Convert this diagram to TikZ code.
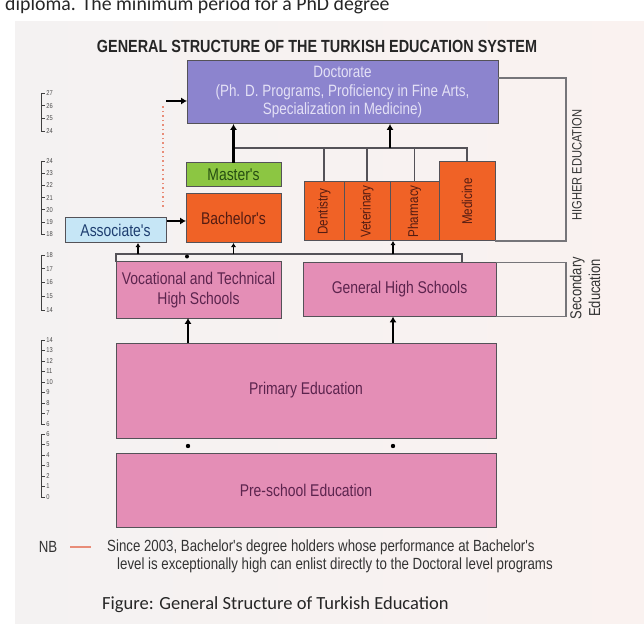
\documentclass[tikz,border=0pt]{standalone}
\usepackage{fontspec}
\usetikzlibrary{arrows.meta,positioning}
\newfontfamily\condfont[FakeStretch=0.82]{Liberation Sans}
\newfontfamily\capfont{Carlito}
\newlength{\px}\setlength{\px}{0.03cm}

\definecolor{paper}{RGB}{244,242,242}
\definecolor{paperR}{RGB}{250,242,240}
\definecolor{docblue}{RGB}{140,132,206}
\definecolor{doctext}{RGB}{228,225,246}
\definecolor{masgreen}{RGB}{140,198,66}
\definecolor{mastext}{RGB}{38,78,18}
\definecolor{bacorange}{RGB}{240,98,38}
\definecolor{bactext}{RGB}{84,28,18}
\definecolor{ascblue}{RGB}{198,230,246}
\definecolor{asctext}{RGB}{30,62,112}
\definecolor{schpink}{RGB}{228,142,182}
\definecolor{schtext}{RGB}{92,36,78}
\definecolor{edgegray}{RGB}{84,82,88}
\definecolor{nbline}{RGB}{232,140,120}

\tikzset{
  box/.style={draw=edgegray, line width=1\px, inner sep=0pt, outer sep=0pt,
    align=center, font=\condfont\fontsize{14.5}{17}\selectfont},
  link/.style={draw=edgegray, line width=1.2\px},
  upar/.style={-{Latex[length=5pt,width=6pt]}, line width=1.8pt},
  tinyup/.style={-{Latex[length=3.5pt,width=4.5pt]}, line width=1.3pt},
  bracket/.style={draw=edgegray!80, line width=1.2\px},
  ruler/.style={draw=black!75, line width=0.8\px},
  sidelab/.style={font=\condfont\fontsize{11.6}{13}\selectfont, text=black!80},
  proflab/.style={font=\condfont\fontsize{12.1}{13}\selectfont, text=bactext},
  notetext/.style={anchor=west, inner sep=0pt, font=\condfont\fontsize{13.8}{15}\selectfont, text=black!80}
}

\begin{document}
\begin{tikzpicture}[x=1\px, y=-1\px]
  \useasboundingbox (0,0) rectangle (644,624);
  \clip (0,0) rectangle (644,624);
  \fill[white] (0,0) rectangle (644,624);
  \shade[left color=paper, right color=paperR] (15,22) rectangle (644,624);

  % cut-off line of the page above
  \node[anchor=base west, inner sep=0pt, font=\capfont\fontsize{16.9}{18}\selectfont, text=black!85]
    (prev) at (5,10.5) {diploma. The minimum period for a PhD degree};

  % title
  \node[font=\condfont\bfseries\fontsize{15}{17}\selectfont, text=black!85]
    (title) at (317,46) {GENERAL STRUCTURE OF THE TURKISH EDUCATION SYSTEM};

  % higher education
  \node[box, fill=docblue, text=doctext, minimum width=311\px, minimum height=63\px,
    font=\condfont\fontsize{14}{15.8}\selectfont]
    (doc) at (342.5,92.5) {Doctorate\\(Ph. D. Programs, Proficiency in Fine Arts,\\Specialization in Medicine)};
  \node[box, fill=masgreen, text=mastext, minimum width=95\px, minimum height=24\px]
    (mas) at (233.5,175) {Master's};
  \node[box, fill=bacorange, text=bactext, minimum width=95\px, minimum height=49\px]
    (bac) at (233.5,218.5) {Bachelor's};
  \node[box, fill=ascblue, text=asctext, minimum width=101\px, minimum height=25\px]
    (asc) at (115.5,230.5) {Associate's};
  \node[box, proflab, fill=bacorange, minimum width=40\px, minimum height=59\px]
    (den) at (324,211.5) {\rotatebox{90}{Dentistry}};
  \node[box, proflab, fill=bacorange, minimum width=46\px, minimum height=59\px]
    (vet) at (367,211.5) {\rotatebox{90}{Veterinary}};
  \node[box, proflab, fill=bacorange, minimum width=49\px, minimum height=59\px]
    (pha) at (414.5,211.5) {\rotatebox{90}{Pharmacy}};
  \node[box, proflab, fill=bacorange, minimum width=56\px, minimum height=79\px]
    (med) at (467,201.5) {\rotatebox{90}{Medicine}};

  % secondary, primary, pre-school
  \node[box, fill=schpink, text=schtext, minimum width=165\px, minimum height=56\px]
    (voc) at (198.5,290) {Vocational and Technical\\High Schools};
  \node[box, fill=schpink, text=schtext, minimum width=193\px, minimum height=54\px]
    (gen) at (399.5,289.5) {General High Schools};
  \node[box, fill=schpink, text=schtext, minimum width=380\px, minimum height=95\px]
    (pri) at (306,390.5) {Primary Education};
  \node[box, fill=schpink, text=schtext, minimum width=380\px, minimum height=74\px]
    (pre) at (306,490) {Pre-school Education};

  % links to doctorate
  \coordinate (hub) at (232,148);
  \coordinate (jn) at (390,148);
  \draw[link] (mas.north |- hub) -- (med.north |- hub) -- (med.north);
  \foreach \p in {den,vet,pha}
    \draw[link] (\p.north) -- (\p.north |- hub);
  \draw[upar] (mas.north) -- (mas.north |- doc.south);
  \draw[upar] (jn) -- (jn |- doc.south);

  % direct route (NB)
  \coordinate (dotB) at (163,207);
  \coordinate (dotT) at (163,106);
  \coordinate (dstart) at (166,101);
  \coordinate (astart) at (167,221);
  \draw[nbline, line width=1.3\px, dash pattern=on 1.5\px off 3\px] (dotB) -- (dotT);
  \draw[upar] (dstart) -- (doc.west |- dstart);
  \draw[upar] (astart) -- (bac.west |- astart);

  % secondary to higher
  \coordinate (secL) at (116,254);
  \coordinate (secR) at (462,254);
  \coordinate (upA) at (138,254);
  \coordinate (upP) at (393,254);
  \draw[link] (voc.north west) -- (secL) -- (secR) -- (secR |- gen.north);
  \draw[tinyup] (upA) -- (upA |- asc.south);
  \draw[tinyup] (bac.south |- secL) -- (bac.south);
  \draw[tinyup] (upP) -- (upP |- den.south);
  \fill (187,256.5) circle (2\px);

  % primary to secondary
  \coordinate (pv) at (188,0);
  \coordinate (pg) at (393,0);
  \draw[upar] (pri.north -| pv) -- (voc.south -| pv);
  \draw[upar] (pri.north -| pg) -- (gen.south -| pg);
  \fill (pv |- 0,446) circle (2.2\px);
  \fill (pg |- 0,446) circle (2.2\px);

  % brackets on the right
  \coordinate (heT) at (566,78);
  \coordinate (seT) at (566,262.5);
  \draw[bracket] (doc.east |- heT) -- (heT) -- (heT |- med.south) -- (med.south east);
  \draw[bracket] (gen.north east) -- (seT) -- (seT |- gen.south) -- (gen.south east);
  \node[sidelab, rotate=90] (helab) at (577,165) {HIGHER EDUCATION};
  \node[sidelab, rotate=90, align=center, font=\condfont\fontsize{13.5}{16}\selectfont]
    (selab) at (585,288) {Secondary\\Education};

  % age ruler
  \foreach \g/\top/\gap/\ages in {a/93/12.7/{27,26,25,24}, b/161/12.2/{24,23,22,21,20,19,18},
      c/255/13.75/{18,17,16,15,14}, d/340/10.5/{14,13,12,11,10,9,8,7,6},
      e/434/10.5/{6,5,4,3,2,1,0}} {
    \foreach \n [count=\i from 0] in \ages {
      \draw[ruler] (41,\top+\i*\gap) -- (45,\top+\i*\gap)
        node[right, inner sep=1\px, font=\condfont\fontsize{6}{6}\selectfont, text=black!70]
        (age-\g-\i) {\n};
      \ifnum\i>0 \draw[ruler] (41,\top+\i*\gap-\gap) -- (41,\top+\i*\gap); \fi
    }
  }

  % note
  \node[font=\condfont\fontsize{13.8}{15}\selectfont, text=black!80] (nb) at (48,547) {NB};
  \coordinate (nbA) at (70,547);
  \coordinate (nbB) at (91,547);
  \draw[nbline, line width=1.3\px] (nbA) -- (nbB);
  \node[notetext] (nb1) at (107,547) {Since 2003, Bachelor's degree holders whose performance at Bachelor's};
  \node[notetext] (nb2) at (117,565) {level is exceptionally high can enlist directly to the Doctoral level programs};

  % caption
  \node[anchor=base west, inner sep=0pt, font=\capfont\fontsize{15.8}{18}\selectfont, text=black!85]
    (cap) at (102,609) {Figure: General Structure of Turkish Education};
\end{tikzpicture}
\end{document}
